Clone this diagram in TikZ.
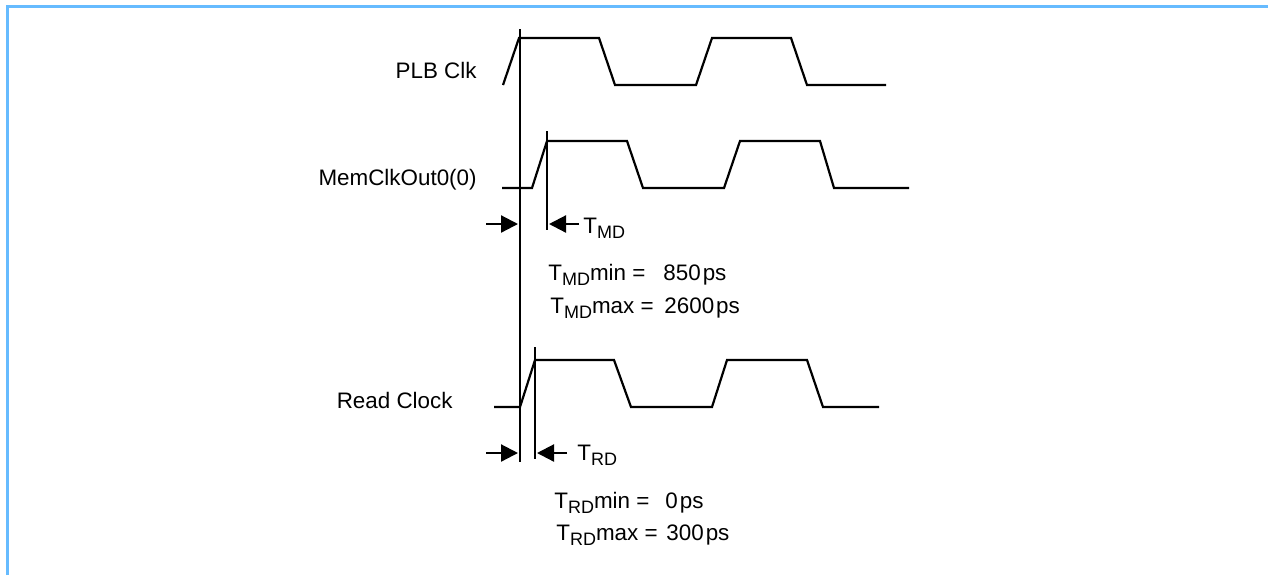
\documentclass[tikz,border=0pt]{standalone}
\usepackage{fontspec}
\setmainfont{Liberation Sans}
\usetikzlibrary{arrows.meta,positioning}
\definecolor{frameblue}{RGB}{102,187,255}
\tikzset{% waveform and label styles
	wave/.style={line width=1.1pt, line join=miter},
	marker/.style={line width=1.1pt},
	delay/.style={line width=1.1pt, shorten >=1pt, -{Triangle[length=8.5pt,width=8.5pt]}},
	signame/.style={anchor=base east, inner sep=0pt},
	txt/.style={anchor=base west, inner sep=0pt}
}
\newcommand{\lowsub}[1]{\raisebox{-2.5pt}{\fontsize{9}{10}\selectfont #1}}
\begin{document}
\begin{tikzpicture}[x=0.5pt, y=-0.5pt, font=\fontsize{11.2}{13}\selectfont]
				\useasboundingbox (0,0) rectangle (1268,575);
				\draw[frameblue, line width=1.5pt] (7,575) -- (7,6) -- (1268,6);
				
				% signal names
				\node[signame] (plb) at (477,78) {PLB Clk};
				\node[signame] (mem) at (477,185) {MemClkOut0(0)};
				\node[signame] (rd) at (453,408) {Read Clock};
				
				% waveforms
				\draw[wave] (503,85) -- ++(16,-47) -- ++(80,0) -- ++(16,47) -- ++(81,0) -- ++(16,-47) -- ++(79,0) -- ++(16,47) -- ++(79,0);
				\draw[wave] (502,188) -- ++(30,0) -- ++(15,-47) -- ++(80,0) -- ++(16,47) -- ++(81,0) -- ++(16,-47) -- ++(80,0) -- ++(14,47) -- ++(75,0);
				\draw[wave] (494,407) -- ++(26,0) -- ++(15,-47) -- ++(79,0) -- ++(17,47) -- ++(81,0) -- ++(15,-47) -- ++(80,0) -- ++(16,47) -- ++(56,0);
				
				% edge markers
				\coordinate (ref) at (520,29);
				\coordinate (memedge) at (547,131);
				\coordinate (rdedge) at (535,347);
				\draw[marker] (ref) -- (520,462);
				\draw[marker] (memedge) -- (547,230);
				\draw[marker] (rdedge) -- (535,459);
				
				% delays
				\coordinate (mdL) at (486,224);
				\coordinate (mdR) at (579,224);
				\coordinate (rdL) at (486,453);
				\coordinate (rdR) at (567,453);
				\draw[delay] (mdL) -- (mdL -| ref);
				\draw[delay] (mdR) -- (mdR -| memedge);
				\draw[delay] (rdL) -- (rdL -| ref);
				\draw[delay] (rdR) -- (rdR -| rdedge);
				\node[txt] (tmd) at (583,233) {T\lowsub{MD}};
				\node[txt] (trd) at (577,460) {T\lowsub{RD}};
				
				\node[txt] (mdmin) at (548,280) {T\lowsub{MD}min =};
				\node[txt] (mdminval) at (663,280) {850\kern1pt ps};
				\node[txt] (mdmax) at (550,313) {T\lowsub{MD}max =};
				\node[txt] (mdmaxval) at (664,313) {2600\kern1pt ps};
				\node[txt] (rdmin) at (554,508) {T\lowsub{RD}min =};
				\node[txt] (rdminval) at (665,508) {0\kern1pt ps};
				\node[txt] (rdmax) at (556,540) {T\lowsub{RD}max =};
				\node[txt] (rdmaxval) at (666,540) {300\kern1pt ps};
\end{tikzpicture}
\end{document}
